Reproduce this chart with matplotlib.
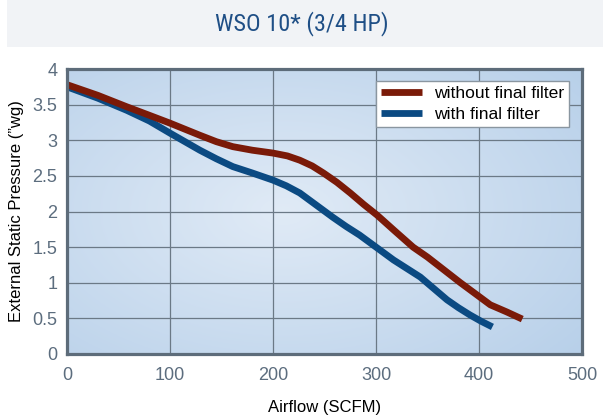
import numpy as np
import matplotlib.pyplot as plt
from matplotlib.patches import Rectangle

# data
airflow_no_filter = [0, 30, 58, 80, 100, 129, 145, 161, 180, 200, 214, 226, 238, 249, 262, 275, 288,
                     301, 318, 336, 350, 366, 382, 397, 411, 427, 442]
esp_no_filter = [3.78, 3.63, 3.47, 3.35, 3.24, 3.07, 2.98, 2.91, 2.86, 2.82, 2.78, 2.72, 2.64, 2.54, 2.41, 2.26, 2.10,
                 1.95, 1.73, 1.50, 1.36, 1.18, 1.00, 0.84, 0.69, 0.59, 0.49]

airflow_filter = [0, 30, 58, 80, 100, 129, 145, 161, 180, 200, 213, 226, 242, 258, 271, 284,
                  301, 317, 330, 343, 356, 369, 380, 391, 402, 413]
esp_filter = [3.75, 3.59, 3.42, 3.27, 3.10, 2.86, 2.74, 2.63, 2.54, 2.44, 2.36, 2.26, 2.09, 1.92, 1.79, 1.67,
              1.49, 1.32, 1.20, 1.08, 0.92, 0.76, 0.65, 0.55, 0.46, 0.38]

x_ticks = [0, 100, 200, 300, 400, 500]
y_ticks = [0, 0.5, 1, 1.5, 2, 2.5, 3, 3.5, 4]
y_ticklabels = ["0", "0.5", "1", "1.5", "2", "2.5", "3", "3.5", "4"]

title = "WSO 10* (3/4 HP)"
red = "#7a1a08"
blue = "#0b4a82"
tick_color = "#5c6d7e"

plt.rcParams['font.family'] = ['Liberation Sans', 'DejaVu Sans']

fig = plt.figure(figsize=(6.03, 4.16), dpi=100)

# title band
fig.patches.append(Rectangle((7/603, 1-47/416), 1-7/603, 47/416, transform=fig.transFigure,
                             facecolor="#f1f3f6", edgecolor="none", zorder=0))
fig.text(0.5, 1-24/416, title, ha="center", va="center", fontsize=17.5, fontstretch="condensed",
         color="#1f4f86", family=['Roboto Condensed', 'Liberation Sans Narrow', 'Liberation Sans'])

ax = fig.add_axes([67/603, 62/416, 515/603, 285/416])
ax.set_xlim(0, 500)
ax.set_ylim(0, 4)

# radial gradient background
gx, gy = np.meshgrid(np.linspace(0, 1, 300), np.linspace(0, 1, 200))
r = np.sqrt(((gx - 0.42) / 0.75) ** 2 + ((gy - 0.5) / 0.8) ** 2)
r = np.clip(r, 0, 1)
c_in = np.array([0.88, 0.92, 0.965])
c_out = np.array([0.72, 0.815, 0.915])
img = c_in[None, None, :] * (1 - r[..., None]) + c_out[None, None, :] * r[..., None]
ax.imshow(img, extent=[0, 500, 0, 4], aspect="auto", origin="lower", zorder=0)

ax.set_xticks(x_ticks)
ax.set_yticks(y_ticks)
ax.set_yticklabels(y_ticklabels)
ax.grid(True, color="#6b7986", linewidth=0.9, zorder=1)
ax.tick_params(length=0, labelsize=13, colors=tick_color, pad=9)
ax.tick_params(axis="y", pad=7)
for s in ax.spines.values():
    s.set_color("#5d6c7a")
    s.set_linewidth(2.3)
    s.set_zorder(5)

ax.plot(airflow_no_filter, esp_no_filter, color=red, linewidth=4.9,
        solid_capstyle="butt", solid_joinstyle="round", zorder=3, label="without final filter")
ax.plot(airflow_filter, esp_filter, color=blue, linewidth=4.9,
        solid_capstyle="butt", solid_joinstyle="round", zorder=2, label="with final filter")

ax.set_xlabel("Airflow (SCFM)", fontsize=12, color="black", labelpad=12)
ax.set_ylabel("External Static Pressure (\u201dwg)", fontsize=12, color="black", labelpad=6)

leg = ax.legend(loc="upper left", bbox_to_anchor=(376/603, 1-81/416),
                bbox_transform=fig.transFigure, fontsize=12.6, frameon=True,
                fancybox=False, framealpha=1, edgecolor="#8a96a0",
                handlelength=2.3, borderpad=0.3, labelspacing=0.3,
                handletextpad=0.7, borderaxespad=0)
leg.get_frame().set_linewidth(1.0)
leg.set_zorder(6)

fig.savefig("out.png", dpi=100)
